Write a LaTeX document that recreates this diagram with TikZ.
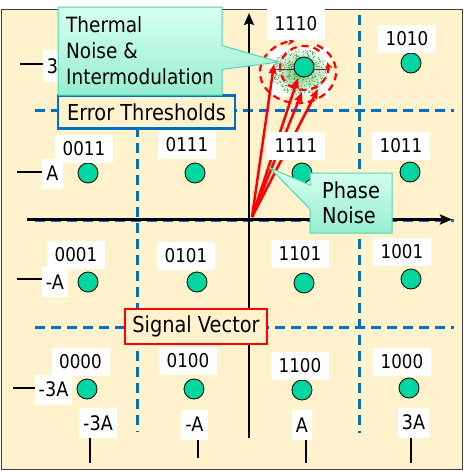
\documentclass[tikz,border=0pt]{standalone}
\usepackage{fontspec}
\setmainfont{DejaVu Sans}[FakeStretch=0.88]
\usetikzlibrary{shapes.callouts,arrows.meta}
\definecolor{bgcream}{RGB}{255,242,204}
\definecolor{dotgreen}{RGB}{0,214,160}
\definecolor{pptblue}{RGB}{0,112,192}
\definecolor{calltop}{RGB}{215,255,242}
\definecolor{callbot}{RGB}{150,238,208}
\definecolor{callborder}{RGB}{80,215,175}
\definecolor{speck}{RGB}{60,150,60}
\begin{document}
\begin{tikzpicture}[x=1pt,y=-1pt,
  bigtext/.style={font=\fontsize{22}{25.5}\selectfont},
  thermtext/.style={font=\fontsize{21}{26}\selectfont},
  bitlabel/.style={fill=white, inner sep=0pt, minimum width=58pt, minimum height=28pt, font=\fontsize{19}{20}\selectfont},
  ticklabel/.style={fill=white, inner xsep=4pt, inner ysep=0pt, minimum height=30pt, font=\fontsize{20}{22}\selectfont},
  symdot/.style={circle, fill=dotgreen, draw=black, line width=0.8pt, minimum size=20pt, inner sep=0pt},
  thresh/.style={pptblue, line width=3pt, dash pattern=on 10pt off 6pt},
  tickmark/.style={line width=2.6pt, black},
  axisline/.style={line width=2.5pt, black, -{Stealth[length=12pt,width=10pt,inset=2pt]}},
  vec/.style={red, line width=2.5pt, -{Stealth[length=10pt,width=8pt,inset=1.5pt]}},
  rot/.style={red, line width=2.2pt, dash pattern=on 7pt off 5pt, -{Stealth[length=7pt,width=7pt]}},
  callbox/.style={rectangle callout, draw=callborder, line width=1pt, top color=calltop, bottom color=callbot, callout pointer width=24pt, align=left, inner sep=4pt},
  labbox/.style={fill=bgcream, bigtext, inner sep=0pt}
]
\useasboundingbox (0,0) rectangle (464,472);
% background
\fill[white] (0,0) rectangle (464,472);
\draw[fill=bgcream, draw=black!75, line width=1pt] (1.5,9.5) rectangle (462.5,469.5);

% decision thresholds
\draw[thresh] (35,110) -- (454,110);
\draw[thresh] (35,327) -- (454,327);
\draw[thresh] (35,220.5) -- (454,220.5);
\draw[thresh] (137,15) -- (137,432);
\draw[thresh] (359,15) -- (359,433);

% axes
\coordinate (xstart) at (27,219.5);
\coordinate (xend) at (452,219.5);
\coordinate (ystart) at (249,438);
\coordinate (yend) at (249,13);
\draw[axisline] (xstart) -- (xend);
\draw[axisline] (ystart) -- (yend);

% tick marks
\coordinate (tl1a) at (20,64);  \coordinate (tl1b) at (47,64);
\coordinate (tl2a) at (17,172); \coordinate (tl2b) at (45,172);
\coordinate (tl3a) at (17,279); \coordinate (tl3b) at (45,279);
\coordinate (tl4a) at (13,388); \coordinate (tl4b) at (40,388);
\draw[tickmark] (tl1a) -- (tl1b);
\draw[tickmark] (tl2a) -- (tl2b);
\draw[tickmark] (tl3a) -- (tl3b);
\draw[tickmark] (tl4a) -- (tl4b);
\coordinate (tb1a) at (90,437);  \coordinate (tb1b) at (90,463);
\coordinate (tb2a) at (198,433); \coordinate (tb2b) at (198,458);
\coordinate (tb3a) at (306,436); \coordinate (tb3b) at (306,463);
\coordinate (tb4a) at (411,436); \coordinate (tb4b) at (411,463);
\draw[tickmark] (tb1a) -- (tb1b);
\draw[tickmark] (tb2a) -- (tb2b);
\draw[tickmark] (tb3a) -- (tb3b);
\draw[tickmark] (tb4a) -- (tb4b);

% noise cloud around 1110
\fill[white] (270,47) rectangle (330,97);
\shade[inner color={rgb,255:red,120;green,200;blue,120}, outer color=white] (300,72) ellipse [x radius=30, y radius=25];
\pgfmathsetseed{7}
\foreach \i in {1,...,420}{
  \pgfmathsetmacro\ang{rnd*360}
  \pgfmathsetmacro\rad{sqrt(rnd)}
  \fill[speck] ({300+28*\rad*cos(\ang)},{72+23*\rad*sin(\ang)}) circle (0.55pt);
}
\coordinate (hl1) at (270,69.5);
\coordinate (hl2) at (330,69.5);
\draw[black!75, line width=1.2pt] (hl1) -- (hl2);

% constellation points
\node[symdot] (d1110) at (304,67) {};
\node[symdot] (d1010) at (411,63) {};
\node[symdot] (d0011) at (88,173) {};
\node[symdot] (d0111) at (195,173) {};
\node[symdot] (d1111) at (302,173) {};
\node[symdot] (d1011) at (410,172) {};
\node[symdot] (d0001) at (88,282) {};
\node[symdot] (d0101) at (197,282) {};
\node[symdot] (d1101) at (304,283) {};
\node[symdot] (d1001) at (411,279) {};
\node[symdot] (d0000) at (87,389) {};
\node[symdot] (d0100) at (194,389) {};
\node[symdot] (d1100) at (302,390) {};
\node[symdot] (d1000) at (409,388) {};

% rotation (phase noise) dashed paths
\draw[rot] (298,72) ++(300:38 and 31) arc[start angle=300, end angle=625, x radius=38, y radius=31];
\draw[rot] (304,68) ++(310:24 and 22) arc[start angle=310, end angle=-15, x radius=24, y radius=22];

% signal vectors
\coordinate (orig) at (252,217);
\coordinate (v1) at (274,64);
\coordinate (v2) at (298,78);
\coordinate (v3) at (302,92);
\coordinate (v4) at (318,89);
\draw[vec] (orig) -- (v1);
\draw[vec] (orig) -- (v2);
\draw[vec] (orig) -- (v3);
\draw[vec] (orig) -- (v4);

% bit labels
\node[bitlabel, minimum height=32pt] (l1110) at (296,24) {1110};
\node[bitlabel] (l1010) at (407,39) {1010};
\node[bitlabel] (l0011) at (84,149) {0011};
\node[bitlabel] (l0111) at (187,145) {0111};
\node[bitlabel] (l1111) at (296,146) {1111};
\node[bitlabel] (l1011) at (401,146) {1011};
\node[bitlabel] (l0001) at (76,255) {0001};
\node[bitlabel] (l0101) at (186,256) {0101};
\node[bitlabel] (l1101) at (300,253.5) {1101};
\node[bitlabel] (l1001) at (402,251.5) {1001};
\node[bitlabel] (l0000) at (80.5,361.5) {0000};
\node[bitlabel] (l0100) at (188,361) {0100};
\node[bitlabel] (l1100) at (300,366) {1100};
\node[bitlabel] (l1000) at (402,361.5) {1000};

% axis tick labels
\node[ticklabel, minimum height=32pt] (y3A) at (58.5,66) {3A};
\node[ticklabel] (yA) at (52.5,173.5) {A};
\node[ticklabel] (ymA) at (55,282) {-A};
\node[ticklabel] (ym3A) at (53.5,389.5) {-3A};
\node[ticklabel] (xm3A) at (98,423) {-3A};
\node[ticklabel] (xmA) at (194.5,424.5) {-A};
\node[ticklabel] (xA) at (302,425) {A};
\node[ticklabel] (x3A) at (413.5,422.5) {3A};

% legend boxes
\node[labbox, draw=pptblue, line width=2.2pt, minimum width=177pt, minimum height=33pt] (err) at (146.5,112) {Error Thresholds};
\node[labbox, draw=red, line width=2.5pt, minimum width=142pt, minimum height=35pt] (sig) at (196,326.5) {Signal Vector};

% callouts
\coordinate (thermaltip) at (279,62);
\coordinate (phasetip) at (270,168);
\node[callbox, thermtext, minimum width=164pt, minimum height=88pt, callout absolute pointer={(thermaltip)}] (thermal) at (140,51) {Thermal\\Noise \&\\Intermodulation};
\node[callbox, bigtext, minimum width=82pt, minimum height=60pt, callout absolute pointer={(phasetip)}] (phase) at (351,203) {Phase\\Noise};
\end{tikzpicture}
\end{document}
